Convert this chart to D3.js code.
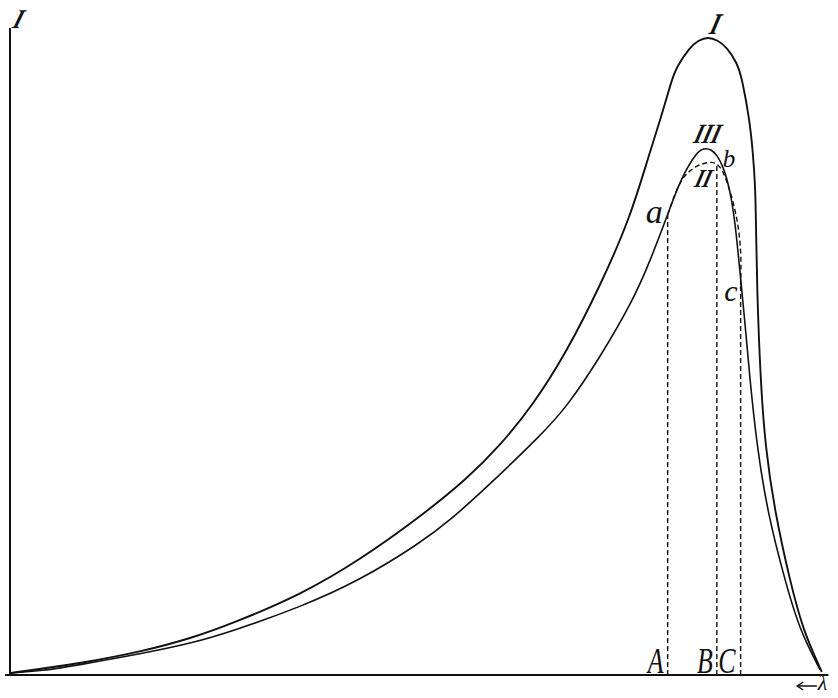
<!DOCTYPE html>
<html>
<head>
<meta charset="utf-8">
<script src="https://cdn.jsdelivr.net/npm/d3@7"></script>
<style>
  html, body { margin: 0; padding: 0; background: #fff; }
  svg { display: block; }
  text { font-family: "Liberation Serif", "DejaVu Serif", serif; font-style: italic; fill: #111; }
</style>
</head>
<body>
<svg id="chart" width="838" height="698"></svg>
<script>
// Spectral intensity curves; wavelength grows to the left (arbitrary units 0–100).
// Each point: [position along the axis, intensity]
const curveI = [
  [0, 0.3], [2.8, 0.8], [8.9, 1.9], [15.9, 3.6], [22.3, 5.8], [27.2, 8.1],
  [35.4, 12.5], [42.7, 18.0], [50.0, 24.7], [55.7, 30.6], [59.8, 35.9],
  [63.8, 42.2], [67.9, 50.5], [72.0, 60.9], [75.6, 71.3], [78.0, 81.6],
  [79.3, 86.7], [80.7, 93.0], [81.3, 95.0], [82.9, 98.1], [84.0, 99.2],
  [85.1, 99.7], [86.3, 99.2], [87.4, 98.1], [88.7, 95.6], [89.3, 93.0],
  [90.2, 86.7], [90.6, 81.6], [90.9, 76.3], [91.0, 68.4], [91.1, 60.6],
  [91.5, 46.6], [92.1, 35.6], [93.3, 25.3], [95.1, 14.8], [96.7, 7.0],
  [99.0, 0.5]
];

const curveIII = [
  [0, 0.3], [3.7, 0.6], [8.9, 1.7], [15.9, 3.3], [22.3, 5.0], [27.2, 6.9],
  [35.4, 10.6], [42.7, 14.8], [50.0, 20.6], [53.7, 24.2], [58.2, 29.4],
  [65.0, 37.8], [67.9, 41.9], [72.0, 49.7], [76.0, 58.6], [78.0, 64.5],
  [80.2, 71.9], [81.3, 75.8], [82.6, 79.4], [83.8, 81.6], [84.3, 82.1],
  [84.9, 82.3], [85.5, 82.1], [86.2, 81.3], [87.0, 79.4], [87.8, 75.8],
  [88.4, 71.1], [89.0, 63.3], [89.6, 55.5], [90.2, 46.6], [91.1, 35.6],
  [92.4, 25.3], [94.5, 14.8], [96.3, 7.0], [98.8, 0.8]
];

// Dashed curve II, running from a through b to c
const curveII = [
  [80.2, 71.9], [81.1, 75.3], [82.1, 78.0], [83.8, 79.7], [85.4, 80.2],
  [86.2, 80.0], [87.0, 78.7], [88.0, 75.0], [88.8, 70.6], [89.2, 65.6],
  [89.1, 60.9]
];

// Cut-off ordinates: foot label, point label, position, height
const cutNames  = ["A", "B", "C"];
const cutPoints = ["a", "b", "c"];
const cutX      = [80.2, 86.2, 89.1];
const cutY      = [71.9, 80.0, 60.9];

const curveNames = ["I", "III", "II"];
const axisY = "I";
const axisX = "λ";

const svg = d3.select("#chart");
const x = d3.scaleLinear().domain([0, 100]).range([10, 830]);
const y = d3.scaleLinear().domain([0, 100]).range([675, 35]);

const line = d3.line()
  .x(d => x(d[0]))
  .y(d => y(d[1]))
  .curve(d3.curveBasis);

// Axes
svg.append("line")
  .attr("x1", x(0)).attr("x2", x(0))
  .attr("y1", y(0)).attr("y2", y(101.1))
  .attr("stroke", "#111").attr("stroke-width", 2);
svg.append("line")
  .attr("x1", x(-0.6)).attr("x2", x(99.8))
  .attr("y1", y(0)).attr("y2", y(0))
  .attr("stroke", "#111").attr("stroke-width", 2);

// Solid curves
svg.append("path").datum(curveI)
  .attr("d", line).attr("fill", "none")
  .attr("stroke", "#111").attr("stroke-width", 1.9);
svg.append("path").datum(curveIII)
  .attr("d", line).attr("fill", "none")
  .attr("stroke", "#111").attr("stroke-width", 1.6);

// Dashed curve II
svg.append("path").datum(curveII)
  .attr("d", line).attr("fill", "none")
  .attr("stroke", "#111").attr("stroke-width", 1.4)
  .attr("stroke-dasharray", "5,3");

// Dashed ordinates A, B, C
cutX.forEach((cx, i) => {
  svg.append("line")
    .attr("x1", x(cx)).attr("x2", x(cx))
    .attr("y1", y(0)).attr("y2", y(cutY[i]))
    .attr("stroke", "#111").attr("stroke-width", 1.4)
    .attr("stroke-dasharray", "5,3");
});

// Foot labels A, B, C
const footOffset = [-4, -4, -5];
cutNames.forEach((n, i) => {
  svg.append("text")
    .attr("transform", `translate(${x(cutX[i]) + footOffset[i]},${y(0) - 2}) scale(0.72,1)`)
    .attr("text-anchor", "end")
    .attr("font-size", 36)
    .text(n);
});

// Point labels a, b, c
const pointFmt = [
  { dx: -5, dy: 8, size: 34, anchor: "end" },
  { dx: 6, dy: 4, size: 25, anchor: "start" },
  { dx: -3, dy: 16, size: 30, anchor: "end" }
];
cutPoints.forEach((p, i) => {
  const f = pointFmt[i];
  svg.append("text")
    .attr("x", x(cutX[i]) + f.dx)
    .attr("y", y(cutY[i]) + f.dy)
    .attr("text-anchor", f.anchor)
    .attr("font-size", f.size)
    .text(p);
});

// Curve names at their peaks
const peaks = [curveI, curveIII, curveII].map(c => d3.greatest(c, d => d[1]));
const nameFmt = [
  { dx: 5, dy: -3, size: 30 },
  { dx: -1, dy: -5, size: 28 },
  { dx: -9, dy: 25, size: 26 }
];
curveNames.forEach((n, i) => {
  const f = nameFmt[i];
  svg.append("text")
    .attr("transform", `translate(${x(peaks[i][0]) + f.dx},${y(peaks[i][1]) + f.dy}) skewX(-16) scale(0.78,1)`)
    .attr("text-anchor", "middle")
    .attr("font-size", f.size)
    .attr("font-weight", "bold")
    .text(n);
});

// Axis names
svg.append("text")
  .attr("transform", `translate(${x(0) + 6},${y(101.1) + 0}) skewX(-18) scale(0.85,1)`)
  .attr("text-anchor", "middle")
  .attr("font-size", 27)
  .attr("font-weight", "bold")
  .text(axisY);

// Arrow pointing left under the right end of the axis
svg.append("line")
  .attr("x1", x(98.4)).attr("x2", x(96.0))
  .attr("y1", y(0) + 11).attr("y2", y(0) + 11)
  .attr("stroke", "#111").attr("stroke-width", 1.5);
svg.append("path")
  .attr("d", `M${x(96.0) + 6},${y(0) + 7} L${x(96.0)},${y(0) + 11} L${x(96.0) + 6},${y(0) + 15}`)
  .attr("fill", "none").attr("stroke", "#111").attr("stroke-width", 1.5);
svg.append("text")
  .attr("x", x(98.5)).attr("y", y(0) + 15)
  .attr("font-size", 22)
  .text(axisX);
</script>
</body>
</html>
